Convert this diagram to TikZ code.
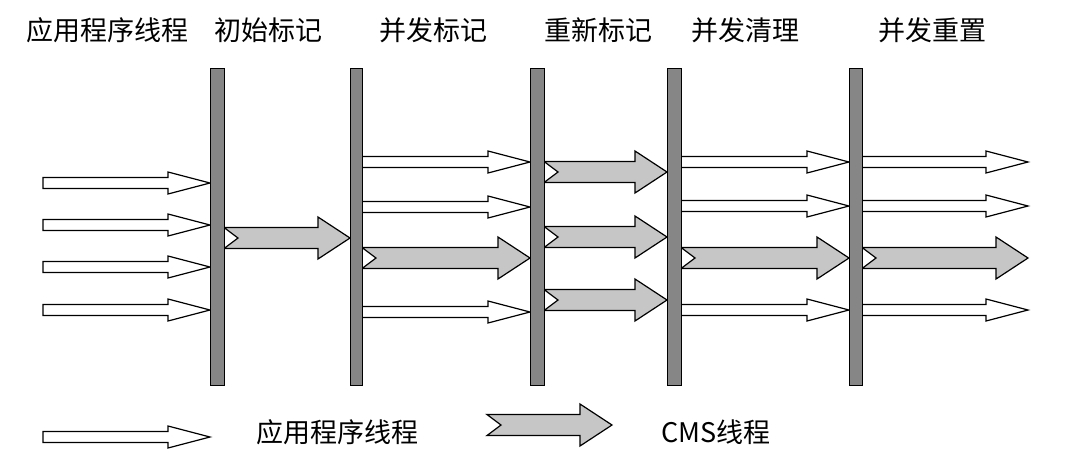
\documentclass[tikz,border=0pt]{standalone}
\usepackage{fontspec}
\newfontfamily\cjk{Noto Sans CJK SC}
\begin{document}
\begin{tikzpicture}[x=1pt,y=-1pt,
  lbl/.style={font=\cjk\fontsize{27}{29}\selectfont},
  barstyle/.style={draw=black,line width=1pt,fill=gray!95},
  arrw/.style={draw=black,line width=1.2pt,fill=white,line join=miter},
  arrg/.style={draw=black,line width=1.2pt,fill=gray!45,line join=miter}]
\useasboundingbox (0,0) rectangle (1067,461);
% #1 style, #2 x1, #3 x2, #4 y, #5 half shaft, #6 half head, #7 head length, #8 notch
\newcommand\myarr[8]{\draw[#1] (#2,#4-#5) -- (#3-#7,#4-#5) -- (#3-#7,#4-#6) -- (#3,#4) -- (#3-#7,#4+#6) -- (#3-#7,#4+#5) -- (#2,#4+#5) -- (#2+#8,#4) -- cycle;}
\newcommand\wa[3]{\myarr{arrw}{#1}{#2}{#3}{5.5}{11}{42}{0}}
\newcommand\ga[3]{\myarr{arrg}{#1}{#2}{#3}{10.5}{21}{32}{14}}
% arrows
\foreach \y in {183,225,267,310} {\wa{43}{210}{\y}}
\ga{224}{350}{238}
\foreach \y in {162,207,312} {\wa{362}{530}{\y}}
\ga{362}{530}{258}
\foreach \y in {172,237,300} {\ga{544}{667}{\y}}
\foreach \y in {162,206,310} {\wa{681}{849}{\y}}
\ga{681}{849}{258}
\foreach \y in {162,206,310} {\wa{862}{1028}{\y}}
\ga{862}{1028}{258}
% bars
\foreach \a/\b in {210/224,350/362,530/544,667/681,849/862}
  {\draw[barstyle] (\a,68) rectangle (\b,385);}
% labels
\node[lbl] (t0) at (107,30) {应用程序线程};
\node[lbl] (t1) at (268,30) {初始标记};
\node[lbl] (t2) at (433,30) {并发标记};
\node[lbl] (t3) at (598,30) {重新标记};
\node[lbl] (t4) at (745,30) {并发清理};
\node[lbl] (t5) at (932,30) {并发重置};
% legend
\wa{43}{210}{437}
\ga{487}{612}{425}
\node[lbl] (l1) at (337,432) {应用程序线程};
\node[lbl] (l2) at (716,432) {CMS线程};
\end{tikzpicture}
\end{document}
